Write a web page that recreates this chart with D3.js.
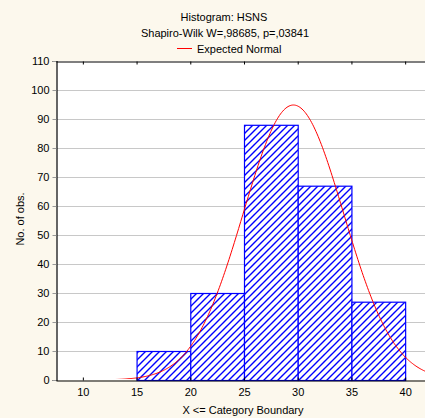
<!DOCTYPE html>
<html><head><meta charset="utf-8">
<script src="https://cdn.jsdelivr.net/npm/d3@7"></script>
<style>
html,body{margin:0;padding:0;background:#fcf8ed;}
svg{display:block;font-family:"Liberation Sans",Arial,sans-serif;}
</style></head><body>
<script>
// Data
const binStarts = [15, 20, 25, 30, 35];
const binEnds   = [20, 25, 30, 35, 40];
const counts    = [10, 30, 88, 67, 27];
const xTicks = [10, 15, 20, 25, 30, 35, 40];
const yTicks = [0, 10, 20, 30, 40, 50, 60, 70, 80, 90, 100, 110];
// Expected normal parameters
const normMean = 29.6, normSd = 4.67, normN = 222, binWidth = 5;

const W = 425, H = 418;
const m = {l: 56, t: 61, r: 432, b: 380};
const svg = d3.select("body").append("svg").attr("width", W).attr("height", H);
svg.append("rect").attr("width", W).attr("height", H).attr("fill", "#fcf8ed");

const x = d3.scaleLinear().domain([7.5, 42.5]).range([m.l, m.r]);
const y = d3.scaleLinear().domain([0, 110]).range([m.b, m.t]);

const defs = svg.append("defs");
const pat = defs.append("pattern").attr("id", "hatch").attr("patternUnits", "userSpaceOnUse")
  .attr("width", 7).attr("height", 7);
pat.append("rect").attr("width", 7).attr("height", 7).attr("fill", "#fff");
pat.append("path").attr("d", "M0,7 L7,0 M-1,1 L1,-1 M6,8 L8,6")
  .attr("stroke", "#0000ff").attr("stroke-width", 1.4);
defs.append("clipPath").attr("id", "plotclip").append("rect")
  .attr("x", m.l + 1).attr("y", m.t).attr("width", m.r - m.l).attr("height", m.b - m.t - 1);

svg.append("rect").attr("x", m.l).attr("y", m.t).attr("width", m.r - m.l).attr("height", m.b - m.t).attr("fill", "#fff");

// gridlines
svg.append("g").selectAll("line").data(yTicks.filter(d => d > 0 && d < 110)).join("line")
  .attr("x1", m.l).attr("x2", W).attr("y1", d => y(d) + 0.5).attr("y2", d => y(d) + 0.5)
  .attr("stroke", "#c8c8c8").attr("stroke-width", 1);

// bars
svg.append("g").selectAll("rect").data(counts).join("rect")
  .attr("x", (d, i) => x(binStarts[i]) + 0.5)
  .attr("y", d => y(d) + 0.5)
  .attr("width", (d, i) => x(binEnds[i]) - x(binStarts[i]))
  .attr("height", d => y(0) - y(d))
  .attr("fill", "url(#hatch)").attr("stroke", "#0000ff").attr("stroke-width", 1.2);

// normal curve
const xs = d3.range(7.5, 42.51, 0.1);
const pdf = v => normN * binWidth * Math.exp(-0.5 * ((v - normMean) / normSd) ** 2) / (normSd * Math.sqrt(2 * Math.PI));
svg.append("path").datum(xs)
  .attr("clip-path", "url(#plotclip)")
  .attr("d", d3.line().x(d => x(d)).y(d => y(pdf(d))).curve(d3.curveLinear))
  .attr("fill", "none").attr("stroke", "#ff0000").attr("stroke-width", 1);

// axes
const yAxis = d3.axisLeft(y).tickValues(yTicks).tickSize(4).tickPadding(3);
const gy = svg.append("g").attr("transform", `translate(${m.l + 0.5},0)`).call(yAxis);
const xAxis = d3.axisBottom(x).tickValues(xTicks).tickSizeInner(-3).tickSizeOuter(0).tickPadding(8);
const gx = svg.append("g").attr("transform", `translate(0,${m.b + 0.5})`).call(xAxis);
const xTop = d3.axisTop(x).tickValues(xTicks).tickSizeInner(-3).tickSizeOuter(0).tickFormat("");
const gt = svg.append("g").attr("transform", `translate(0,${m.t + 0.5})`).call(xTop);
[gx, gy, gt].forEach(g => {
  g.selectAll("text").attr("font-size", 11).attr("fill", "#000").attr("font-family", "Liberation Sans, Arial, sans-serif");
  g.selectAll("line,path").attr("stroke", "#000");
  g.select(".domain").attr("stroke-width", 1.2);
});
gy.selectAll(".tick line").attr("stroke", "#999");

// titles
const t = svg.append("g").attr("font-size", 11).attr("fill", "#000").attr("text-anchor", "middle");
t.append("text").attr("x", 224).attr("y", 21).text("Histogram: HSNS");
t.append("text").attr("x", 225).attr("y", 37).text("Shapiro-Wilk W=,98685, p=,03841");
svg.append("line").attr("x1", 177).attr("x2", 192).attr("y1", 48.5).attr("y2", 48.5).attr("stroke", "#ff0000").attr("stroke-width", 1);
svg.append("text").attr("x", 197).attr("y", 53).attr("font-size", 11).text("Expected Normal");

svg.append("text").attr("x", 243).attr("y", 414).attr("font-size", 11).attr("text-anchor", "middle").text("X <= Category Boundary");
svg.append("text").attr("transform", "translate(24,219) rotate(-90)").attr("font-size", 11).attr("text-anchor", "middle").text("No. of obs.");
</script>
</body></html>
